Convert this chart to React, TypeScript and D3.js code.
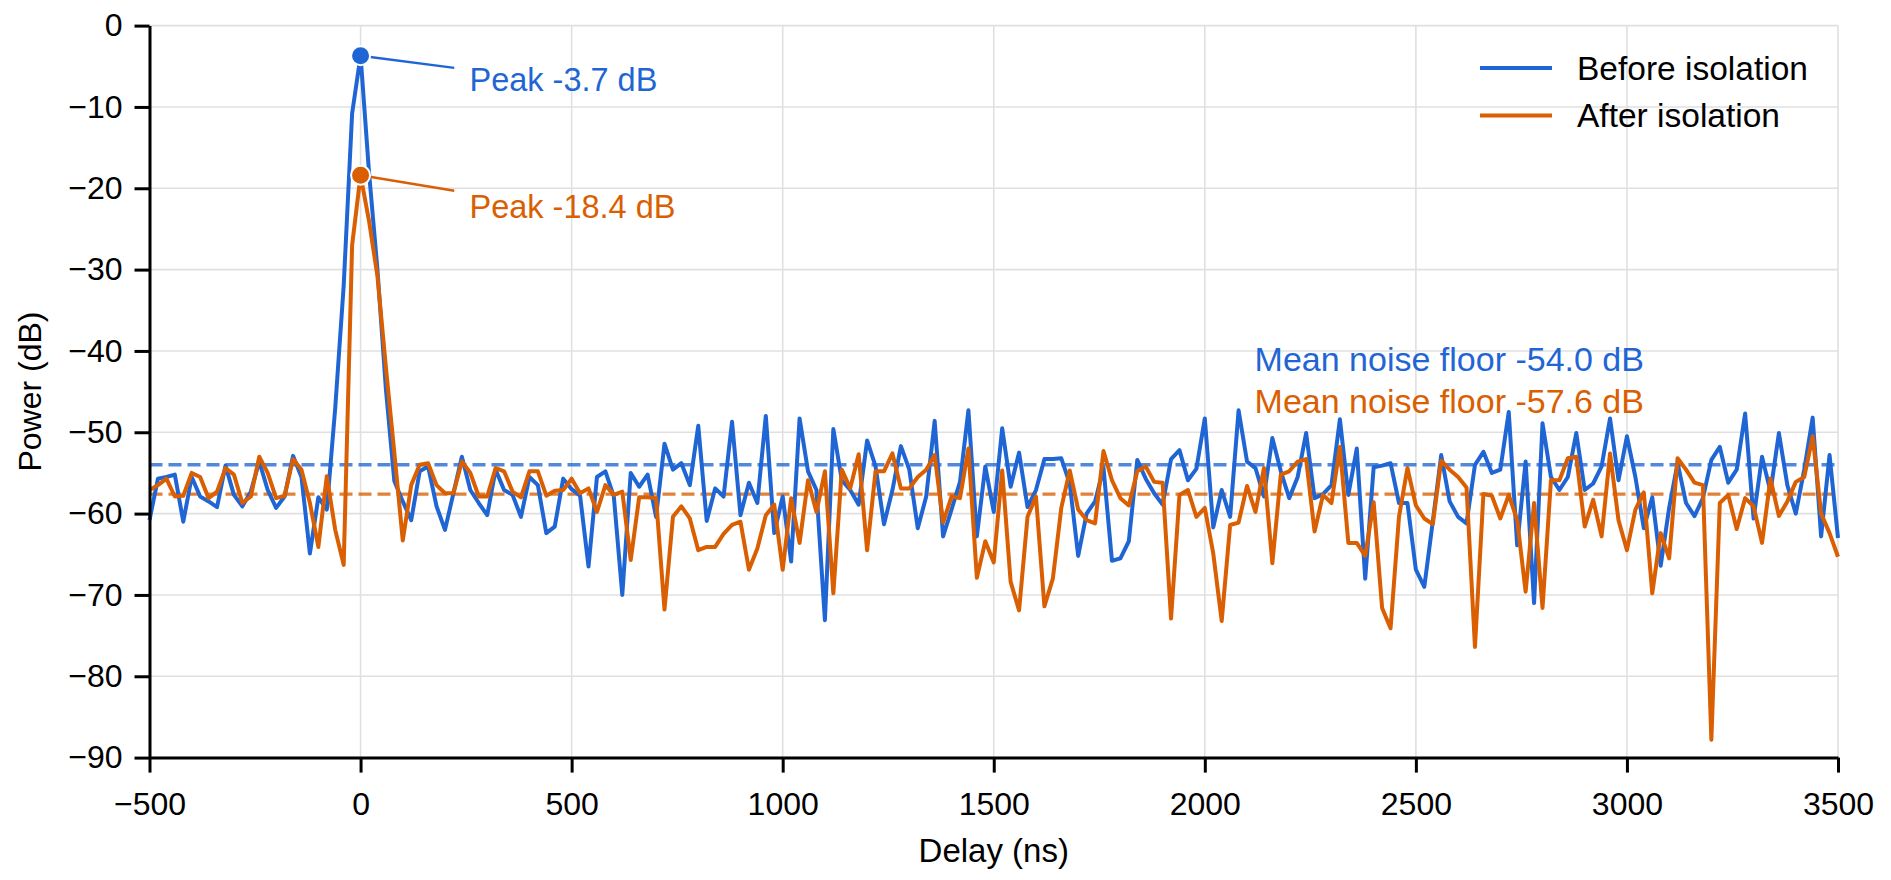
import React from 'react';
import * as d3 from 'd3';

// delay axis: one sample every 20 ns from -500 to 3500 ns
const delayStart = -500;
const delayStep = 20;

const beforeIsolation = [
  -60.8, -55.7, -55.5, -55.2, -61.0, -55.5, -57.9, -58.5, -59.2, -54.1,
  -57.7, -59.1, -57.3, -53.6, -57.1, -59.3, -57.9, -52.9, -55.5, -64.9,
  -58.0, -59.5, -47.0, -32.0, -10.8, -3.7, -18.0, -30.0, -44.7, -56.0,
  -58.5, -60.8, -54.8, -54.2, -59.1, -62.0, -57.5, -53.0, -57.1, -58.7,
  -60.2, -54.6, -57.1, -57.7, -60.4, -55.5, -56.5, -62.4, -61.6, -55.7,
  -57.0, -57.8, -66.5, -55.5, -54.8, -57.9, -70.0, -55.0, -56.7, -55.2,
  -60.4, -51.4, -54.6, -53.8, -56.5, -49.2, -60.9, -56.9, -57.9, -48.7,
  -60.2, -56.2, -58.7, -48.0, -62.4, -57.9, -65.9, -48.3, -54.8, -57.1,
  -73.1, -49.6, -55.9, -57.1, -58.9, -51.0, -54.2, -61.3, -57.1, -51.7,
  -54.6, -61.8, -57.9, -48.6, -62.8, -59.5, -56.1, -47.3, -62.8, -54.2,
  -59.8, -49.5, -56.7, -52.5, -59.2, -57.1, -53.3, -53.3, -53.2, -56.3,
  -65.2, -60.0, -58.5, -54.4, -65.8, -65.5, -63.4, -53.4, -55.7, -57.5,
  -58.9, -53.3, -52.2, -55.9, -54.5, -48.3, -61.7, -57.1, -60.4, -47.3,
  -53.6, -54.4, -57.9, -50.7, -54.8, -58.1, -55.5, -50.1, -58.1, -57.6,
  -56.5, -48.4, -57.7, -52.0, -68.0, -54.3, -54.1, -53.8, -58.7, -58.7,
  -66.9, -69.0, -61.0, -52.8, -58.5, -60.4, -61.2, -54.0, -52.4, -55.0,
  -54.6, -47.5, -63.9, -53.6, -71.0, -48.9, -55.5, -57.1, -55.5, -50.1,
  -57.1, -56.3, -54.2, -48.3, -55.9, -50.5, -55.5, -61.8, -58.0, -66.4,
  -59.3, -53.8, -58.7, -60.3, -58.1, -53.4, -51.8, -56.2, -54.6, -47.7,
  -60.6, -53.0, -57.3, -50.1, -56.5, -60.0, -54.6, -48.2, -62.8, -52.8,
  -63.0
];

const afterIsolation = [
  -57.1, -56.5, -55.7, -57.9, -57.8, -55.0, -55.5, -58.1, -57.3, -54.4,
  -55.2, -58.7, -57.9, -53.0, -55.0, -58.1, -57.8, -53.3, -54.6, -58.7,
  -64.1, -55.4, -62.0, -66.3, -27.0, -18.4, -24.0, -30.8, -42.0, -52.5,
  -63.3, -56.5, -54.0, -53.8, -56.5, -57.5, -57.5, -53.6, -55.0, -57.9,
  -57.9, -54.4, -54.8, -57.3, -58.0, -54.8, -54.8, -57.8, -57.2, -57.1,
  -55.7, -57.5, -56.9, -59.8, -56.5, -57.7, -57.3, -65.7, -58.0, -58.0,
  -58.1, -71.8, -60.4, -59.1, -60.6, -64.5, -64.1, -64.1, -62.5, -61.4,
  -61.0, -66.9, -64.3, -60.2, -58.9, -66.9, -58.1, -63.6, -55.9, -59.8,
  -54.8, -69.8, -54.6, -56.9, -52.7, -64.5, -54.8, -54.8, -52.6, -56.9,
  -56.9, -55.5, -54.6, -52.8, -61.1, -57.9, -58.1, -52.0, -67.9, -63.4,
  -66.0, -54.7, -68.4, -71.9, -60.4, -57.9, -71.4, -68.0, -59.3, -54.7,
  -59.5, -60.8, -61.2, -52.3, -55.9, -58.1, -59.0, -54.8, -54.2, -56.1,
  -56.2, -72.9, -57.7, -57.1, -60.4, -59.3, -64.9, -73.2, -61.4, -61.1,
  -56.6, -59.8, -54.4, -66.1, -55.2, -54.8, -53.6, -53.3, -62.2, -57.7,
  -58.7, -51.8, -63.6, -63.6, -65.2, -58.6, -71.6, -74.1, -60.4, -54.4,
  -59.0, -60.6, -61.3, -53.5, -54.6, -55.5, -56.8, -76.4, -57.6, -57.8,
  -60.6, -57.7, -60.8, -69.6, -58.7, -71.6, -55.9, -55.9, -53.2, -53.0,
  -61.6, -58.3, -62.8, -52.6, -60.8, -64.5, -59.5, -57.4, -69.8, -62.4,
  -65.5, -53.2, -54.6, -56.2, -56.5, -87.8, -58.7, -57.7, -61.9, -58.1,
  -59.1, -63.6, -55.7, -60.3, -58.5, -56.1, -55.5, -50.5, -60.0, -62.4,
  -65.3
];

const xTicks = [-500, 0, 500, 1000, 1500, 2000, 2500, 3000, 3500];
const yTicks = [0, -10, -20, -30, -40, -50, -60, -70, -80, -90];

const seriesNames = ['Before isolation', 'After isolation'];
const seriesColors = ['#1f66d4', '#d95f02'];
const peakValues = [-3.7, -18.4];
const noiseFloors = [-54.0, -57.6];

const FONT = "'Liberation Sans', Arial, Helvetica, sans-serif";

const App: React.FC = () => {
  const svgRef = React.useRef<SVGSVGElement>(null);
  const width = 1891;
  const height = 880;

  React.useEffect(() => {
    if (!svgRef.current) return;
    document.body.style.margin = '0';

    const svg = d3.select(svgRef.current);
    svg.selectAll('*').remove();

    const margin = { top: 25.6, right: 53, bottom: 122.4, left: 149.5 };
    const chartWidth = width - margin.left - margin.right;
    const chartHeight = height - margin.top - margin.bottom;

    svg.append('rect').attr('width', width).attr('height', height).attr('fill', '#fff');

    const g = svg.append('g')
      .attr('transform', `translate(${margin.left},${margin.top})`);

    const xScale = d3.scaleLinear().domain([-500, 3500]).range([0, chartWidth]);
    const yScale = d3.scaleLinear().domain([-90, 0]).range([chartHeight, 0]);

    const delays = beforeIsolation.map((_, i) => delayStart + i * delayStep);
    const series = [beforeIsolation, afterIsolation];

    // grid
    g.append('g')
      .selectAll('line')
      .data(xTicks)
      .enter().append('line')
      .attr('x1', d => xScale(d)).attr('x2', d => xScale(d))
      .attr('y1', 0).attr('y2', chartHeight)
      .attr('stroke', '#e0e0e0').attr('stroke-width', 1.6);
    g.append('g')
      .selectAll('line')
      .data(yTicks)
      .enter().append('line')
      .attr('x1', 0).attr('x2', chartWidth)
      .attr('y1', d => yScale(d)).attr('y2', d => yScale(d))
      .attr('stroke', '#e0e0e0').attr('stroke-width', 1.6);

    // mean noise floor lines
    noiseFloors.forEach((v, i) => {
      g.append('line')
        .attr('x1', 0).attr('x2', chartWidth)
        .attr('y1', yScale(v)).attr('y2', yScale(v))
        .attr('stroke', seriesColors[i])
        .attr('stroke-opacity', 0.78)
        .attr('stroke-width', 3.4)
        .attr('stroke-dasharray', '13 6');
    });

    // series
    const line = d3.line<number>()
      .x((_, i) => xScale(delays[i]))
      .y(d => yScale(d));

    series.forEach((values, i) => {
      g.append('path')
        .datum(values)
        .attr('fill', 'none')
        .attr('stroke', seriesColors[i])
        .attr('stroke-width', 4)
        .attr('stroke-linejoin', 'round')
        .attr('d', line);
    });

    // axes
    const minus = (d: d3.NumberValue) => d3.format('')(d as number).replace('-', '\u2212');
    const xAxis = g.append('g')
      .attr('transform', `translate(0,${chartHeight})`)
      .call(d3.axisBottom(xScale).tickValues(xTicks).tickSize(15).tickSizeOuter(0).tickPadding(20)
        .tickFormat(minus));
    const yAxis = g.append('g')
      .call(d3.axisLeft(yScale).tickValues(yTicks).tickSize(15).tickSizeOuter(0).tickPadding(12)
        .tickFormat(minus));

    [xAxis, yAxis].forEach(ax => {
      ax.select('.domain').attr('stroke', '#000').attr('stroke-width', 3);
      ax.selectAll('.tick line').attr('stroke', '#000').attr('stroke-width', 3);
      ax.selectAll('.tick text')
        .attr('fill', '#000')
        .attr('font-size', 32)
        .attr('font-family', FONT);
    });

    // peak markers and labels
    const labelX = 258;
    const lineEndX = 222;
    const labelY = [-8.05, -23.65];
    const lineEndY = [-5.2, -20.3];
    peakValues.forEach((p, i) => {
      g.append('line')
        .attr('x1', xScale(0)).attr('y1', yScale(p))
        .attr('x2', xScale(lineEndX)).attr('y2', yScale(lineEndY[i]))
        .attr('stroke', seriesColors[i])
        .attr('stroke-width', 2.4);
      g.append('circle')
        .attr('cx', xScale(0)).attr('cy', yScale(p))
        .attr('r', 9.5)
        .attr('fill', seriesColors[i])
        .attr('stroke', '#fff')
        .attr('stroke-width', 2);
      g.append('text')
        .attr('x', xScale(labelX)).attr('y', yScale(labelY[i]))
        .attr('font-size', 32.5)
        .attr('font-family', FONT)
        .attr('fill', seriesColors[i])
        .text(`Peak -${Math.abs(p).toFixed(1)} dB`);
    });

    // noise floor labels
    const floorLabelY = [-42.5, -47.6];
    noiseFloors.forEach((v, i) => {
      g.append('text')
        .attr('x', xScale(2118)).attr('y', yScale(floorLabelY[i]))
        .attr('font-size', 34)
        .attr('font-family', FONT)
        .attr('fill', seriesColors[i])
        .text(`Mean noise floor -${Math.abs(v).toFixed(1)} dB`);
    });

    // legend
    const legend = svg.append('g').attr('transform', 'translate(1480, 68)');
    seriesNames.forEach((name, i) => {
      const row = legend.append('g').attr('transform', `translate(0, ${i * 47.5})`);
      row.append('line')
        .attr('x1', 0).attr('x2', 72)
        .attr('y1', 0).attr('y2', 0)
        .attr('stroke', seriesColors[i])
        .attr('stroke-width', 4);
      row.append('text')
        .attr('x', 97).attr('y', 11.5)
        .attr('font-size', 33.5)
        .attr('font-family', FONT)
        .attr('fill', '#000')
        .text(name);
    });

    // axis labels
    svg.append('text')
      .attr('x', margin.left + chartWidth / 2)
      .attr('y', 862)
      .attr('text-anchor', 'middle')
      .attr('font-size', 33)
      .attr('font-family', FONT)
      .attr('fill', '#000')
      .text('Delay (ns)');

    svg.append('text')
      .attr('transform', `translate(41, ${margin.top + chartHeight / 2}) rotate(-90)`)
      .attr('text-anchor', 'middle')
      .attr('font-size', 32)
      .attr('font-family', FONT)
      .attr('fill', '#000')
      .text('Power (dB)');
  }, []);

  return (
    <svg
      ref={svgRef}
      width={width}
      height={height}
      style={{ display: 'block', position: 'absolute', left: 0, top: 0 }}
    />
  );
};

export default App;
